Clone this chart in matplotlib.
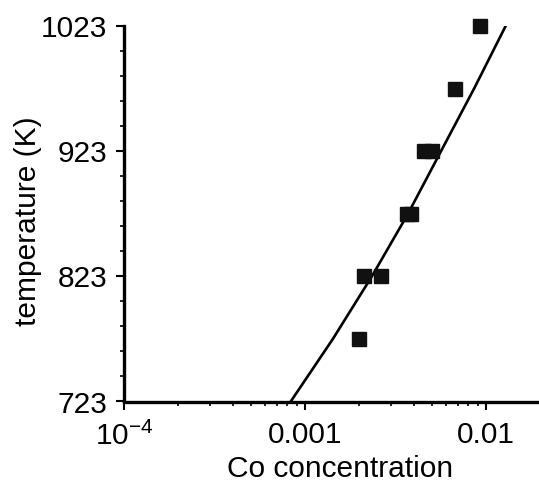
import numpy as np
import matplotlib
matplotlib.use('Agg')
import matplotlib.pyplot as plt
from matplotlib.ticker import FixedLocator, LogLocator, NullFormatter

plt.rcParams['font.family'] = ['Liberation Sans', 'DejaVu Sans']
plt.rcParams['mathtext.fontset'] = 'custom'
plt.rcParams['mathtext.rm'] = 'Liberation Sans'

# measured points (Co concentration vs temperature)
co_meas = [0.00198, 0.00213, 0.00264, 0.00364, 0.00385, 0.00453, 0.00505, 0.00671, 0.00931]
T_meas = [773, 823, 823, 873, 873, 923, 923, 973, 1023]

# fitted curve
co_fit = [0.000834, 0.001426, 0.002342, 0.003707, 0.005642, 0.008595, 0.01284]
T_fit = [723, 773, 823, 873, 923, 973, 1023]

y_ticks = [723, 823, 923, 1023]
x_ticks = [1e-4, 1e-3, 1e-2]
x_ticklabels = [r'$10^{-4}$', '0.001', '0.01']

fig = plt.figure(figsize=(5.39, 4.86), dpi=100)
ax = fig.add_axes([124/539, 1-401.5/486, 1-124/539, (401.5-26)/486])

ax.plot(co_fit, T_fit, color='black', lw=1.9, zorder=2)
ax.plot(co_meas, T_meas, 's', color='#111111', ms=10.6, mec='#111111', zorder=3, clip_on=False)

ax.set_xscale('log')
ax.set_xlim(1e-4, 10**(-4 + (539-124)/181))
ax.set_ylim(723, 1023)

ax.set_yticks(y_ticks)
ax.set_yticklabels([str(t) for t in y_ticks])
ax.yaxis.set_minor_locator(FixedLocator(np.arange(723, 1024, 20)))
ax.set_xticks(x_ticks)
ax.set_xticklabels(x_ticklabels)
ax.xaxis.set_minor_locator(LogLocator(base=10, subs=np.arange(2, 10)))
ax.xaxis.set_minor_formatter(NullFormatter())

ax.tick_params(which='major', direction='out', length=6, width=1.5, labelsize=21.5, colors='black')
ax.tick_params(which='minor', direction='out', length=3.2, width=1.2)
ax.tick_params(axis='x', which='major', pad=8)
ax.tick_params(axis='y', which='major', pad=6)

for s in ['top', 'right']:
    ax.spines[s].set_visible(False)
ax.spines['left'].set_linewidth(2.4)
ax.spines['bottom'].set_linewidth(2.4)

ax.set_xlabel('Co concentration', fontsize=21.5)
ax.set_ylabel('temperature (K)', fontsize=21.5)
ax.yaxis.set_label_coords(-0.197, 0.48)
ax.xaxis.set_label_coords(0.52, -0.143)

fig.savefig('out.png', dpi=100)
